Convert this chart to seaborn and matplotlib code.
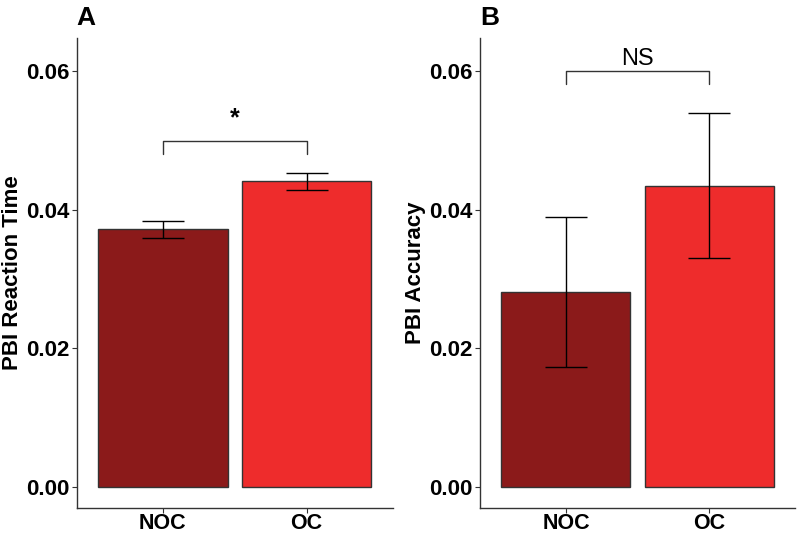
import seaborn as sns
import matplotlib.pyplot as plt
import matplotlib.font_manager as fm
import pandas as pd

# --- Data ---
groups = ["NOC", "OC"]
rt_mean = [0.0372, 0.0441]
rt_se = [0.0012, 0.0012]
acc_mean = [0.0281, 0.0435]
acc_se = [0.0108, 0.0105]

colors = ["#8B1A1A", "#EE2C2C"]

# keep the narrow Liberation variant from being picked for "Liberation Sans"
fm.fontManager.ttflist = [f for f in fm.fontManager.ttflist if "Narrow" not in f.fname]
fm.FontManager._findfont_cached.cache_clear()

sns.set_style("white")
plt.rcParams["font.family"] = ["Liberation Sans", "DejaVu Sans"]
plt.rcParams["text.color"] = "black"
plt.rcParams["xtick.color"] = "black"
plt.rcParams["ytick.color"] = "black"
plt.rcParams["axes.labelcolor"] = "black"

fig = plt.figure(figsize=(8, 5.34), dpi=100)
ax_a = fig.add_axes([0.0959, 0.0487, 0.395, 0.881])
ax_b = fig.add_axes([0.600, 0.0487, 0.394, 0.881])


def panel(ax, means, se, ylabel, letter, bracket_y, sig, sig_y, sig_size, sig_weight):
    df = pd.DataFrame({"group": groups, "value": means})
    sns.barplot(data=df, x="group", y="value", hue="group", palette=colors,
                saturation=1, width=0.9, edgecolor="#333333", linewidth=1.0,
                errorbar=None, legend=False, ax=ax)
    ax.errorbar(x=[0, 1], y=means, yerr=se, fmt="none", ecolor="black",
                elinewidth=1.0, capsize=15.4, capthick=1.0)
    # significance bracket
    ax.plot([0, 0, 1, 1], [bracket_y - 0.0018, bracket_y, bracket_y, bracket_y - 0.0018],
            color="#333333", lw=1.0)
    ax.text(0.5, sig_y, sig, ha="center", va="center", fontsize=sig_size,
            fontweight=sig_weight)

    ax.set_xlim(-0.6, 1.6)
    ax.set_ylim(-0.00308, 0.0649)
    ax.set_yticks([0.0, 0.02, 0.04, 0.06])
    ax.set_yticklabels(["0.00", "0.02", "0.04", "0.06"])
    ax.set_xlabel("")
    ax.set_ylabel(ylabel, fontsize=16, fontweight="bold", labelpad=2)
    ax.tick_params(axis="both", labelsize=16, length=3.3, width=0.8,
                   color="#333333", direction="out", pad=2)
    ax.tick_params(axis="x", labelsize=15.5, pad=0.5)
    ax.tick_params(axis="both", which="both", left=True, bottom=True)
    for lab in ax.get_xticklabels() + ax.get_yticklabels():
        lab.set_fontweight("bold")
    sns.despine(ax=ax)
    for s in ["left", "bottom"]:
        ax.spines[s].set_color("#333333")
        ax.spines[s].set_linewidth(1.0)
    ax.text(0.0, 1.0266, letter, transform=ax.transAxes, fontsize=19,
            fontweight="bold", ha="left", va="baseline")


panel(ax_a, rt_mean, rt_se, "PBI Reaction Time", "A", 0.0499, "*", 0.0532, 18, "bold")
panel(ax_b, acc_mean, acc_se, "PBI Accuracy", "B", 0.0600, "NS", 0.0618, 17, "normal")

plt.savefig("out.png", dpi=100)
plt.close()
